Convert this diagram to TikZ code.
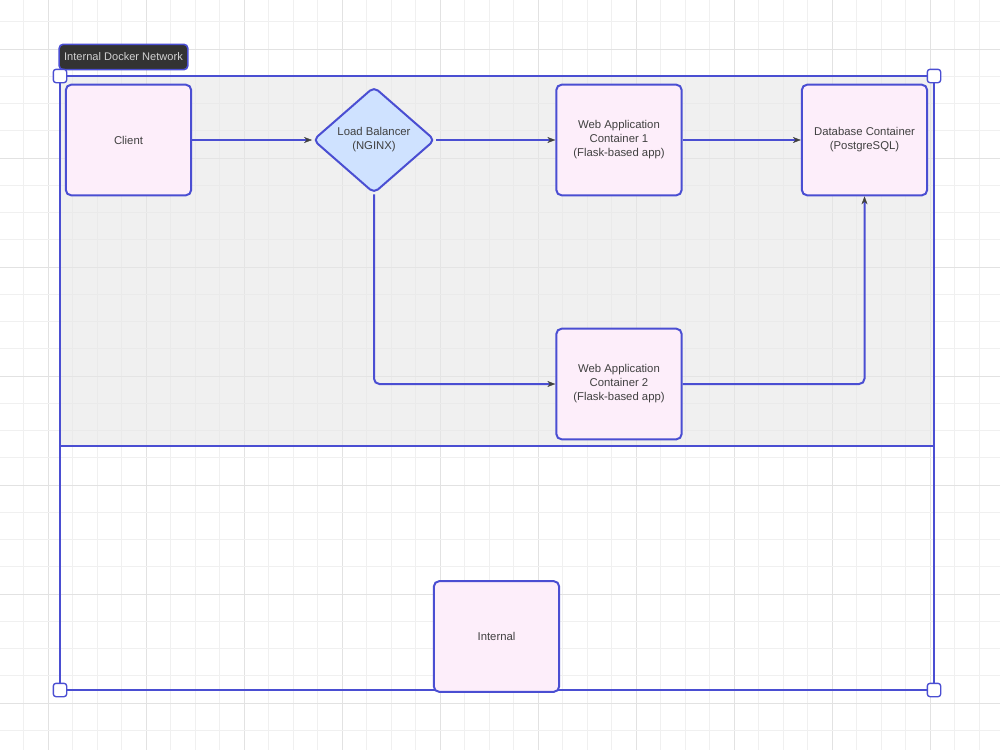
\documentclass[tikz,border=0pt]{standalone}
\usepackage{fontspec}
\setmainfont{Liberation Sans}
\usetikzlibrary{shapes.geometric,arrows.meta}
\definecolor{lineblue}{HTML}{4A4ED2}
\definecolor{pinkfill}{HTML}{FDEEFA}
\definecolor{lbfill}{HTML}{CFE2FF}
\definecolor{txt}{HTML}{404040}
\definecolor{gminor}{HTML}{F0F0F0}
\definecolor{gmajor}{HTML}{E2E2E2}
\definecolor{zonegray}{HTML}{E6E6E6}
\begin{document}
\begin{tikzpicture}[x=0.75pt,y=-0.75pt,
  box/.style={draw=lineblue,fill=pinkfill,line width=1.5pt,rounded corners=4pt,
    minimum width=94pt,minimum height=83pt,align=center,text=txt,
    font=\fontsize{8.5}{10.5}\selectfont,inner sep=2pt},
  lb/.style={diamond,draw=lineblue,fill=lbfill,line width=1.5pt,rounded corners=4pt,
    minimum width=91.5pt,minimum height=80pt,inner sep=0pt,align=center,text=txt,
    font=\fontsize{8.5}{10.5}\selectfont},
  conn/.style={draw=lineblue,line width=1.5pt,
    -{Stealth[length=6pt,width=4.5pt,color=txt,line width=0.3pt]}},
  handle/.style={draw=lineblue,fill=white,line width=1pt,rounded corners=2pt,
    minimum size=10pt,inner sep=0pt},
  frame/.style={draw=lineblue,line width=2.2pt}
]
\useasboundingbox (0,0) rectangle (1000,750);
\fill[white] (0,0) rectangle (1000,750);
% grid
\foreach \k in {-2,...,39} {
  \pgfmathsetmacro{\gx}{48+24.5*\k}
  \pgfmathtruncatemacro{\m}{mod(\k+100,4)}
  \ifnum\m=0
    \draw[gmajor,line width=0.6pt] (\gx,0) -- (\gx,750);
  \else
    \draw[gminor,line width=0.6pt] (\gx,0) -- (\gx,750);
  \fi
}
\foreach \k in {-2,...,26} {
  \pgfmathsetmacro{\gy}{49+27.25*\k}
  \pgfmathtruncatemacro{\m}{mod(\k+100,4)}
  \ifnum\m=0
    \draw[gmajor,line width=0.6pt] (0,\gy) -- (1000,\gy);
  \else
    \draw[gminor,line width=0.6pt] (0,\gy) -- (1000,\gy);
  \fi
}
% zone
\fill[zonegray,fill opacity=0.6] (60,76) rectangle (934,446);
\draw[frame] (60,446) -- (934,446);
\draw[frame] (60,76) rectangle (934,690);
% label
\node[draw=lineblue,fill=black!80,line width=1.2pt,rounded corners=3pt,
  minimum width=96.5pt,minimum height=19pt,inner sep=0pt,
  text=black!18,font=\fontsize{8.3}{9}\selectfont] (lbl) at (123.5,57) {Internal Docker Network};
% nodes
\node[box] (client) at (128.5,140) {Client};
\node[lb] (lbal) at (374,140) {Load Balancer\\(NGINX)};
\node[box] (wa1) at (619,140) {Web Application\\Container 1\\(Flask-based app)};
\node[box] (db) at (864.5,140) {Database Container\\(PostgreSQL)};
\node[box] (wa2) at (619,384) {Web Application\\Container 2\\(Flask-based app)};
\node[box] (int) at (496.5,636.5) {Internal};
% connectors
\draw[conn] (client.east) -- (lbal.west);
\draw[conn] (lbal.east) -- (wa1.west);
\draw[conn] (wa1.east) -- (db.west);
\draw[conn,rounded corners=4pt] (lbal.south) |- (wa2.west);
\draw[conn,rounded corners=4pt] (wa2.east) -| (db.south);
% handles
\node[handle] (h1) at (60,76) {};
\node[handle] (h2) at (934,76) {};
\node[handle] (h3) at (60,690) {};
\node[handle] (h4) at (934,690) {};
\end{tikzpicture}
\end{document}
